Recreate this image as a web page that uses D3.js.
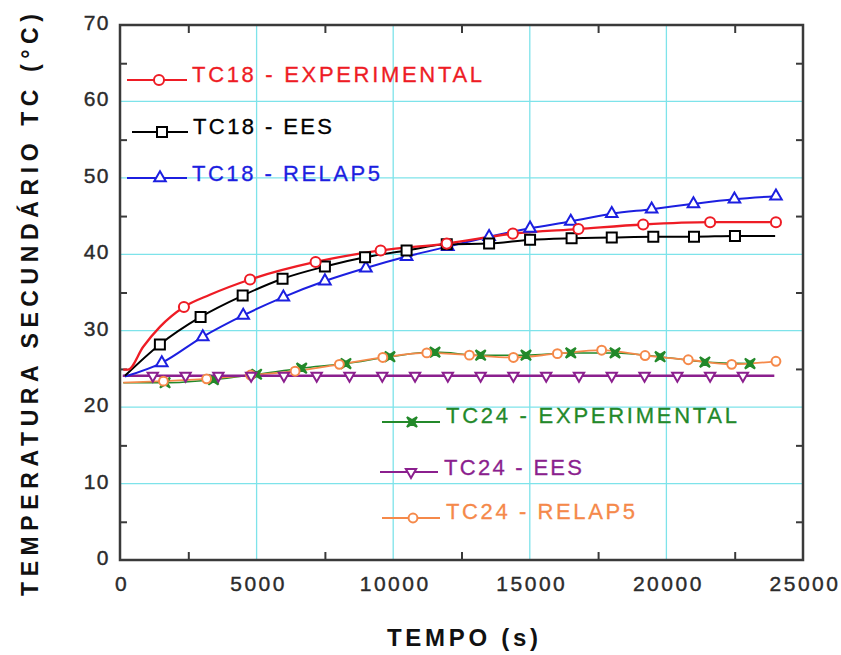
<!DOCTYPE html>
<html>
<head>
<meta charset="utf-8">
<script src="https://cdn.jsdelivr.net/npm/d3@7"></script>
<style>
    body { margin: 0; background: #fff; }
    svg text { font-family: "Liberation Sans", Arial, sans-serif; }
</style>
</head>
<body>
<svg id="chart" width="841" height="655"></svg>
<script>
// time (s), temperature (°C)
const tc18Exp = [[120, 24.9], [290, 24.9], [850, 27.9], [1460, 30.5], [2340, 33.1], [3290, 34.7], [4760, 36.7],
    [7160, 39.0], [9540, 40.5], [11960, 41.4], [14380, 42.7], [16780, 43.3], [19150, 43.9], [21600, 44.2], [24010, 44.2]];
const tc18ExpMarks = [2340, 4760, 7160, 9540, 11960, 14380, 16780, 19150, 21600, 24010];

const tc18Ees = [[180, 24.1], [1460, 28.2], [2950, 31.8], [4490, 34.6], [5950, 36.8], [7500, 38.4], [8970, 39.6],
    [10490, 40.5], [11960, 41.3], [13510, 41.4], [15010, 41.9], [16530, 42.1], [18000, 42.2], [19520, 42.3],
    [21010, 42.3], [22510, 42.4], [23980, 42.4]];
const tc18EesMarks = [1460, 2950, 4490, 5950, 7500, 8970, 10490, 11960, 13510, 15010, 16530, 18000, 19520, 21010, 22510];

const tc18Relap = [[180, 24.0], [1530, 25.8], [3030, 29.2], [4510, 32.0], [5980, 34.4], [7500, 36.5], [9000, 38.2],
    [10490, 39.7], [12000, 41.0], [13510, 42.3], [15010, 43.4], [16500, 44.3], [18000, 45.3], [19460, 45.9],
    [20990, 46.6], [22490, 47.2], [24010, 47.6]];
const tc18RelapMarks = [1530, 3030, 4510, 5980, 7500, 9000, 10490, 12000, 13510, 15010, 16500, 18000, 19460, 20990, 22490, 24010];

const tc24Exp = [[120, 23.2], [1650, 23.2], [3420, 23.6], [5000, 24.3], [6650, 25.1], [8270, 25.7], [9880, 26.6],
    [11530, 27.2], [13200, 26.8], [14860, 26.8], [16500, 27.1], [18120, 27.1], [19770, 26.6], [21410, 25.9], [23060, 25.7]];
const tc24ExpMarks = [1650, 3420, 5000, 6650, 8270, 9880, 11530, 13200, 14860, 16500, 18120, 19770, 21410, 23060];

const tc24Ees = [[100, 24.1], [1200, 24.1], [2400, 24.1], [3600, 24.1], [4800, 24.1], [6000, 24.1], [7200, 24.1],
    [8400, 24.1], [9600, 24.1], [10800, 24.1], [12000, 24.1], [13200, 24.1], [14400, 24.1], [15600, 24.1],
    [16800, 24.1], [18000, 24.1], [19200, 24.1], [20400, 24.1], [21600, 24.1], [22800, 24.1], [23950, 24.1]];
const tc24EesMarks = [1200, 2400, 3600, 4800, 6000, 7200, 8400, 9600, 10800, 12000, 13200, 14400, 15600,
    16800, 18000, 19200, 20400, 21600, 22800];

const tc24Relap = [[120, 23.2], [1590, 23.4], [3170, 23.7], [4780, 24.2], [6410, 24.7], [8030, 25.6], [9620, 26.5],
    [11230, 27.1], [12790, 26.8], [14400, 26.5], [16010, 27.0], [17630, 27.45], [19220, 26.75], [20800, 26.2],
    [22390, 25.6], [24010, 26.0]];
const tc24RelapMarks = [1590, 3170, 4780, 6410, 8030, 9620, 11230, 12790, 14400, 16010, 17630, 19220, 20800, 22390, 24010];

const xMajor = [0, 5000, 10000, 15000, 20000, 25000];
const xMinor = [2500, 7500, 12500, 17500, 22500];
const yMajor = [0, 10, 20, 30, 40, 50, 60, 70];
const yMinor = [5, 15, 25, 35, 45, 55, 65];

const legendTop = ["TC18 - EXPERIMENTAL", "TC18 - EES", "TC18 - RELAP5"];
const legendBottom = ["TC24 - EXPERIMENTAL", "TC24 - EES", "TC24 - RELAP5"];

const svg = d3.select("#chart");
const plotLeft = 120, plotRight = 803, plotTop = 25, plotBottom = 560;

const x = d3.scaleLinear().domain([0, 25000]).range([plotLeft, plotRight]);
const y = d3.scaleLinear().domain([0, 70]).range([plotBottom, plotTop]);

const gridColor = "#7ee3ea";
const frameColor = "#3a3a3a";

// grid (only the inner major lines)
svg.append("g").selectAll("line")
    .data(xMajor.slice(1, -1))
    .join("line")
    .attr("x1", d => x(d)).attr("x2", d => x(d))
    .attr("y1", plotTop).attr("y2", plotBottom)
    .attr("stroke", gridColor).attr("stroke-width", 1.3);

svg.append("g").selectAll("line")
    .data(yMajor.slice(1, -1))
    .join("line")
    .attr("y1", d => y(d)).attr("y2", d => y(d))
    .attr("x1", plotLeft).attr("x2", plotRight)
    .attr("stroke", gridColor).attr("stroke-width", 1.3);

// minor ticks pointing inward on every side
const styleTicks = (g) => {
    g.select(".domain").remove();
    g.selectAll(".tick line").attr("stroke", frameColor).attr("stroke-width", 2);
    g.selectAll(".tick text").remove();
};
svg.append("g").attr("transform", `translate(0,${plotBottom})`)
    .call(d3.axisBottom(x).tickValues(xMinor).tickSize(-8)).call(styleTicks);
svg.append("g").attr("transform", `translate(0,${plotTop})`)
    .call(d3.axisTop(x).tickValues(xMinor).tickSize(-8)).call(styleTicks);
svg.append("g").attr("transform", `translate(${plotLeft},0)`)
    .call(d3.axisLeft(y).tickValues(yMinor).tickSize(-7)).call(styleTicks);
svg.append("g").attr("transform", `translate(${plotRight},0)`)
    .call(d3.axisRight(y).tickValues(yMinor).tickSize(-7)).call(styleTicks);

// frame
svg.append("rect")
    .attr("x", plotLeft).attr("y", plotTop)
    .attr("width", plotRight - plotLeft).attr("height", plotBottom - plotTop)
    .attr("fill", "none").attr("stroke", frameColor).attr("stroke-width", 2.5);

// tick labels
const labelColor = "#2b2b2b";
svg.append("g").selectAll("text")
    .data(xMajor)
    .join("text")
    .attr("x", d => x(d) + 2)
    .attr("y", 591)
    .attr("text-anchor", "middle")
    .attr("font-size", 21)
    .attr("letter-spacing", 2.5)
    .attr("fill", labelColor)
    .attr("stroke", labelColor).attr("stroke-width", 0.4)
    .text(d => d);

svg.append("g").selectAll("text")
    .data(yMajor)
    .join("text")
    .attr("x", 110)
    .attr("y", d => y(d) + 5)
    .attr("text-anchor", "end")
    .attr("font-size", 21)
    .attr("letter-spacing", 1.5)
    .attr("fill", labelColor)
    .attr("stroke", labelColor).attr("stroke-width", 0.4)
    .text(d => d);

// axis titles
svg.append("text")
    .attr("x", 387).attr("y", 646)
    .attr("font-size", 24).attr("font-weight", "bold")
    .attr("textLength", 151).attr("lengthAdjust", "spacing")
    .attr("fill", "#111")
    .text("TEMPO (s)");

svg.append("text")
    .attr("transform", "translate(38,596) rotate(-90)")
    .attr("font-size", 23).attr("font-weight", "bold")
    .attr("textLength", 582).attr("lengthAdjust", "spacing")
    .attr("fill", "#111")
    .text("TEMPERATURA SECUNDÁRIO TC (°C)");

// series
const bowtie = "M-5,-5L0,-1.8L5,-5L1.8,0L5,5L0,1.8L-5,5L-1.8,0Z";
const series = [
    {data: tc24Exp, marks: tc24ExpMarks, color: "#23892a", width: 1.5, symbol: bowtie, fill: "#23892a"},
    {data: tc24Relap, marks: tc24RelapMarks, color: "#f5894a", width: 1.8, symbol: d3.symbol(d3.symbolCircle, 62)(), fill: "#fff"},
    {data: tc24Ees, marks: tc24EesMarks, color: "#8b1f8e", width: 2.4, symbol: d3.symbol(d3.symbolTriangle, 46)(), rotate: 180, fill: "#fff"},
    {data: tc18Relap, marks: tc18RelapMarks, color: "#1c1fe0", width: 2, symbol: d3.symbol(d3.symbolTriangle, 58)(), fill: "#fff"},
    {data: tc18Ees, marks: tc18EesMarks, color: "#000", width: 2, symbol: d3.symbol(d3.symbolSquare, 100)(), fill: "#fff"},
    {data: tc18Exp, marks: tc18ExpMarks, color: "#ee1c25", width: 2.3, symbol: d3.symbol(d3.symbolCircle, 80)(), fill: "#fff"}
];

const line = d3.line().x(d => x(d[0])).y(d => y(d[1])).curve(d3.curveMonotoneX);

series.forEach((s) => {
    svg.append("path")
        .datum(s.data)
        .attr("d", line)
        .attr("fill", "none")
        .attr("stroke", s.color)
        .attr("stroke-width", s.width);
});

series.forEach((s) => {
    const points = s.data.filter(d => s.marks.includes(d[0]));
    svg.append("g").selectAll("path")
        .data(points)
        .join("path")
        .attr("d", s.symbol)
        .attr("transform", d => `translate(${x(d[0])},${y(d[1])}) rotate(${s.rotate || 0})`)
        .attr("fill", s.fill)
        .attr("stroke", s.color)
        .attr("stroke-width", 2);
});

// legends: line + marker + coloured label
const legendItems = [
    {text: legendTop[0], s: series[5], x1: 127, x2: 187, mx: 159, ly: 80, tx: 192, ty: 82, tw: 290},
    {text: legendTop[1], s: series[4], x1: 132, x2: 188, mx: 162, ly: 132, tx: 193, ty: 134, tw: 139},
    {text: legendTop[2], s: series[3], x1: 127, x2: 187, mx: 160, ly: 178, tx: 192, ty: 181, tw: 188},
    {text: legendBottom[0], s: series[0], x1: 382, x2: 440, mx: 412, ly: 422, tx: 446, ty: 423, tw: 291},
    {text: legendBottom[1], s: series[2], x1: 380, x2: 438, mx: 411, ly: 472, tx: 444, ty: 475, tw: 138},
    {text: legendBottom[2], s: series[1], x1: 382, x2: 440, mx: 413, ly: 518, tx: 446, ty: 519, tw: 189}
];

const legend = svg.append("g");
legendItems.forEach((item) => {
    const g = legend.append("g");
    g.append("line")
        .attr("x1", item.x1).attr("x2", item.x2)
        .attr("y1", item.ly).attr("y2", item.ly)
        .attr("stroke", item.s.color).attr("stroke-width", 2);
    g.append("path")
        .attr("d", item.s.symbol)
        .attr("transform", `translate(${item.mx},${item.ly}) rotate(${item.s.rotate || 0})`)
        .attr("fill", item.s.fill)
        .attr("stroke", item.s.color)
        .attr("stroke-width", 2);
    g.append("text")
        .attr("x", item.tx).attr("y", item.ty)
        .attr("font-size", 22)
        .attr("textLength", item.tw).attr("lengthAdjust", "spacing")
        .attr("fill", item.s.color)
        .attr("stroke", item.s.color).attr("stroke-width", 0.3)
        .text(item.text);
});
</script>
</body>
</html>
